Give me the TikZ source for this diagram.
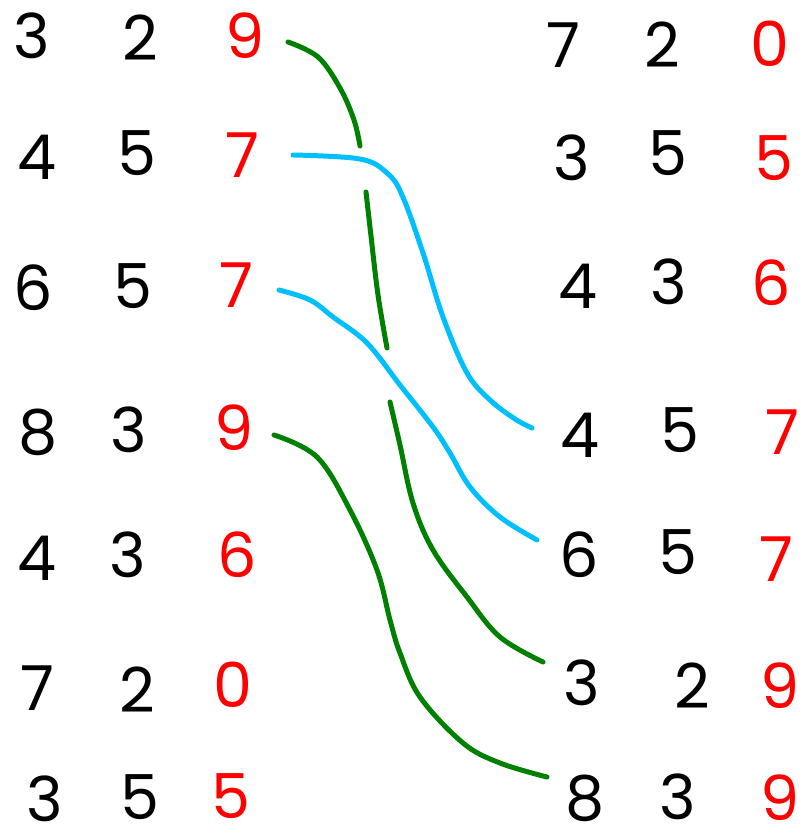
\documentclass[tikz,border=0pt]{standalone}
\usepackage{fontspec}
\setmainfont{Poppins}
\begin{document}
\begin{tikzpicture}[x=1pt,y=-1pt,
  dig/.style={inner sep=0pt,font=\fontsize{62}{66}\selectfont,text=black},
  rdig/.style={dig,text=red},
  pen/.style={line width=5pt,line cap=round,line join=round},
  gpen/.style={pen,draw=penGreen},
  bpen/.style={pen,draw=penBlue}]
\definecolor{penGreen}{RGB}{0,128,0}
\definecolor{penBlue}{RGB}{0,191,255}
\useasboundingbox (0,0) rectangle (803,837);
% left column
\node[dig]  (L1a) at (32,36)  {3};
\node[dig]  (L1b) at (140,38) {2};
\node[rdig] (L1c) at (245,36) {9};
\node[dig]  (L2a) at (37,157) {4};
\node[dig]  (L2b) at (137,153){5};
\node[rdig] (L2c) at (242,155){7};
\node[dig]  (L3a) at (33,288) {6};
\node[dig]  (L3b) at (133,286){5};
\node[rdig] (L3c) at (236,285){7};
\node[dig]  (L4a) at (38,432) {8};
\node[dig]  (L4b) at (129,430){3};
\node[rdig] (L4c) at (234,428){9};
\node[dig]  (L5a) at (37,558) {4};
\node[dig]  (L5b) at (128,555){3};
\node[rdig] (L5c) at (237,555){6};
\node[dig]  (L6a) at (37,688) {7};
\node[dig]  (L6b) at (137,690){2};
\node[rdig] (L6c) at (233,685){0};
\node[dig]  (L7a) at (45,799) {3};
\node[dig]  (L7b) at (140,797){5};
\node[rdig] (L7c) at (231,796){5};
% right column
\node[dig]  (R1a) at (563,45) {7};
\node[dig]  (R1b) at (662,45) {2};
\node[rdig] (R1c) at (770,44) {0};
\node[dig]  (R2a) at (572,158){3};
\node[dig]  (R2b) at (668,153){5};
\node[rdig] (R2c) at (774,158){5};
\node[dig]  (R3a) at (578,286){4};
\node[dig]  (R3b) at (669,282){3};
\node[rdig] (R3c) at (771,283){6};
\node[dig]  (R4a) at (580,435){4};
\node[dig]  (R4b) at (680,430){5};
\node[rdig] (R4c) at (782,432){7};
\node[dig]  (R5a) at (579,555){6};
\node[dig]  (R5b) at (678,552){5};
\node[rdig] (R5c) at (776,559){7};
\node[dig]  (R6a) at (582,683){3};
\node[dig]  (R6b) at (692,686){2};
\node[rdig] (R6c) at (780,686){9};
\node[dig]  (R7a) at (585,798){8};
\node[dig]  (R7b) at (678,797){3};
\node[rdig] (R7c) at (780,798){9};
% connector end points
\coordinate (g1s) at (288,42);
\coordinate (g1e) at (543,662);
\coordinate (b1s) at (293,155);
\coordinate (b1e) at (532,428);
\coordinate (b2s) at (279,290);
\coordinate (b2e) at (537,540);
\coordinate (g2s) at (274,435);
\coordinate (g2e) at (547,777);
% green: 329 -> row 6 (broken where the blue lines cross)
\draw[gpen] plot[smooth,tension=0.6] coordinates {(g1s) (318,57) (340,88) (354,120) (360,146)};
\draw[gpen] plot[smooth,tension=0.6] coordinates {(366,192) (371,236) (378,295) (387,348)};
\draw[gpen] plot[smooth,tension=0.6] coordinates {(390,402) (400,445) (413,503) (433,550) (467,597) (500,637) (g1e)};
% blue: 457 -> row 4
\draw[bpen] plot[smooth,tension=0.6] coordinates {(b1s) (360,159) (387,173) (402,195) (423,253) (443,317) (467,373) (490,400) (515,419) (b1e)};
% blue: 657 -> row 5
\draw[bpen] plot[smooth,tension=0.6] coordinates {(b2s) (310,300) (333,317) (367,343) (400,385) (433,427) (450,453) (470,487) (500,517) (b2e)};
% green: 839 -> row 7
\draw[gpen] plot[smooth,tension=0.6] coordinates {(g2s) (317,457) (350,510) (377,570) (390,620) (400,653) (420,697) (463,743) (500,763) (g2e)};
\end{tikzpicture}
\end{document}
